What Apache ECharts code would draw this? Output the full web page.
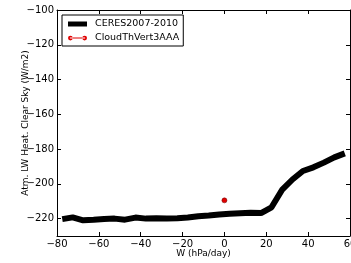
<!DOCTYPE html>
<html>
<head>
<meta charset="utf-8">
<script src="https://cdn.jsdelivr.net/npm/echarts@6/dist/echarts.min.js"></script>
<style>
  html, body { margin: 0; padding: 0; background: #fff; }
  #chart { width: 351px; height: 263px; }
</style>
</head>
<body>
<div id="chart"></div>
<script>
// CERES 2007-2010, binned by W (hPa/day)
const ceresW = [-77.5, -72.5, -67.5, -62.5, -57.5, -52.5, -47.5, -42.5, -37.5, -32.5,
                -27.5, -22.5, -17.5, -12.5, -7.5, -2.5, 2.5, 7.5, 12.5, 17.5,
                22.5, 27.5, 32.5, 37.5, 42.5, 47.5, 52.5, 57.5];
const ceresHeat = [-220.3, -219.3, -221, -220.7, -220.2, -220, -220.6, -219.4, -220, -219.8,
                   -219.9, -219.8, -219.3, -218.6, -218.2, -217.6, -217.2, -216.9, -216.6, -216.8,
                   -213.5, -203.5, -197.5, -192.6, -190.5, -187.8, -184.8, -182.5];
// model point
const modelW = [0];
const modelHeat = [-209.5];

const yTicks = [-220, -200, -180, -160, -140, -120, -100];

const font = 'DejaVu Sans';
const minus = v => String(v).replace('-', '\u2212');

const chart = echarts.init(document.getElementById('chart'));

const tick = { show: true, inside: true, length: 4, lineStyle: { color: '#000' } };
const tickAxis = (extra) => Object.assign({
    type: 'value',
    axisLine: { show: true, onZero: false, lineStyle: { color: '#000', width: 1 } },
    axisTick: tick,
    splitLine: { show: false },
    axisLabel: { show: false }
}, extra);

// legend icon: red line with a marker at each end
const markerIcon = 'path://M2,2 L18,2 L18,3 L2,3 Z M0,2.5 A2.5,2.5 0 1 0 5,2.5 A2.5,2.5 0 1 0 0,2.5 Z M15,2.5 A2.5,2.5 0 1 0 20,2.5 A2.5,2.5 0 1 0 15,2.5 Z';

chart.setOption({
    animation: false,
    grid: { left: 57, right: 1, top: 10, bottom: 27, outerBoundsMode: 'none', containLabel: false },
    legend: {
        left: 62, top: 15,
        orient: 'vertical',
        itemWidth: 19, itemHeight: 5, itemGap: 4,
        borderColor: '#000', borderWidth: 1, borderRadius: 0,
        padding: [4, 4, 3, 6],
        textStyle: { fontFamily: font, fontSize: 9.5, color: '#000', padding: [0, 0, 0, 3] },
        data: [
            { name: 'CERES2007-2010', icon: 'rect', itemStyle: { color: '#000', borderWidth: 0 } },
            { name: 'CloudThVert3AAA', icon: markerIcon, itemStyle: { color: '#e00000', borderWidth: 0 } }
        ]
    },
    xAxis: [
        tickAxis({
            min: -80, max: 60, interval: 20,
            name: 'W (hPa/day)', nameLocation: 'middle', nameGap: 13, nameMoveOverlap: false,
            nameTextStyle: { fontFamily: font, fontSize: 9, color: '#000' },
            axisLabel: { show: true, color: '#000', fontFamily: font, fontSize: 10, margin: 3, formatter: minus }
        }),
        tickAxis({ position: 'top', min: -80, max: 60, interval: 20 })
    ],
    yAxis: [
        tickAxis({
            min: -230, max: -100,
            name: 'Atm. LW Heat. Clear Sky (W/m2)', nameLocation: 'middle', nameGap: 27, nameMoveOverlap: false,
            nameTextStyle: { fontFamily: font, fontSize: 9, color: '#000' },
            axisLabel: { show: true, color: '#000', fontFamily: font, fontSize: 10, margin: 3,
                         customValues: yTicks, formatter: minus },
            axisTick: Object.assign({ customValues: yTicks }, tick)
        }),
        tickAxis({
            position: 'right', min: -230, max: -100,
            axisTick: Object.assign({ customValues: yTicks }, tick)
        })
    ],
    series: [
        {
            name: 'CERES2007-2010',
            type: 'line',
            data: ceresW.map((w, i) => [w, ceresHeat[i]]),
            showSymbol: false,
            symbol: 'none',
            lineStyle: { color: '#000', width: 6 },
            itemStyle: { color: '#000' }
        },
        {
            name: 'CloudThVert3AAA',
            type: 'line',
            data: modelW.map((w, i) => [w, modelHeat[i]]),
            symbol: 'circle',
            symbolSize: 5,
            lineStyle: { color: '#e00000', width: 1 },
            itemStyle: { color: '#e00000', borderColor: '#600', borderWidth: 0.5 }
        }
    ]
});
</script>
</body>
</html>
